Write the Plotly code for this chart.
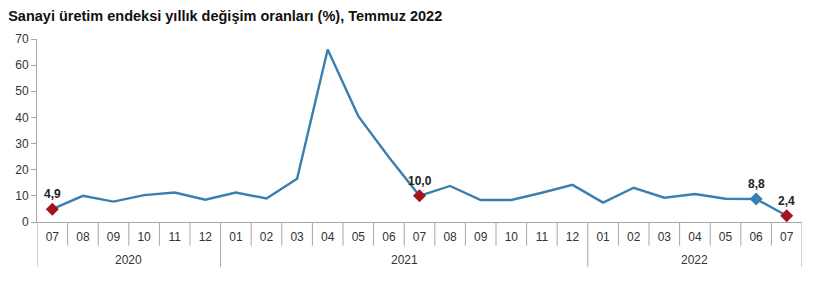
import plotly.graph_objects as go

months = ["07", "08", "09", "10", "11", "12",
          "01", "02", "03", "04", "05", "06", "07", "08", "09", "10", "11", "12",
          "01", "02", "03", "04", "05", "06", "07"]
years = ["2020", "2021", "2022"]
year_counts = [6, 12, 7]
values = [4.9, 10.0, 7.8, 10.3, 11.3, 8.5,
          11.3, 9.0, 16.5, 66.0, 40.5, 24.8, 10.0, 13.8, 8.4, 8.4, 11.2, 14.2,
          7.4, 13.1, 9.3, 10.7, 8.9, 8.8, 2.4]
red_idx = [0, 12, 24]
blue_idx = [23]

LINE = "#3b7fb0"
RED = "#a3151c"
GRID = "#a6a6a6"
FONT = "Liberation Sans, Arial, sans-serif"

x = list(range(len(months)))
fig = go.Figure()
fig.add_trace(go.Scatter(x=x, y=values, mode="lines",
                         line=dict(color=LINE, width=2.4), hoverinfo="skip"))
fig.add_trace(go.Scatter(x=[x[i] for i in red_idx], y=[values[i] for i in red_idx],
                         mode="markers", marker=dict(symbol="diamond", size=10, color=RED)))
fig.add_trace(go.Scatter(x=[x[i] for i in blue_idx], y=[values[i] for i in blue_idx],
                         mode="markers", marker=dict(symbol="diamond", size=10, color=LINE)))

annotations = []
for i in red_idx + blue_idx:
    annotations.append(dict(x=x[i], y=values[i], xref="x", yref="y",
                            text="<b>" + f"{values[i]:.1f}".replace(".", ",") + "</b>",
                            showarrow=False, yshift=15,
                            font=dict(family=FONT, size=12, color="#222")))

shapes = []
start = 0
bounds_long = [-0.5]
for c in year_counts:
    start += c
    bounds_long.append(start - 0.5)
for b in range(len(months) + 1):
    xb = b - 0.5
    y1 = -0.245 if xb in bounds_long else -0.13
    shapes.append(dict(type="line", xref="x", yref="paper", x0=xb, x1=xb, y0=0, y1=y1,
                       line=dict(color=GRID, width=1)))

s = 0
for yr, c in zip(years, year_counts):
    annotations.append(dict(x=s + (c - 1) / 2, y=-0.205, xref="x", yref="paper",
                            text=yr, showarrow=False, yanchor="middle",
                            font=dict(family=FONT, size=12, color="#333")))
    s += c

fig.update_layout(
    width=817, height=295,
    margin=dict(l=37, r=15, t=39, b=73),
    paper_bgcolor="white", plot_bgcolor="white",
    showlegend=False,
    title=dict(text="<b>Sanayi üretim endeksi yıllık değişim oranları (%), Temmuz 2022</b>",
               x=0.01, xanchor="left", y=0.945, yanchor="middle",
               font=dict(family=FONT, size=14.5, color="#111")),
    xaxis=dict(range=[-0.5, len(months) - 0.5], tickvals=x, ticktext=months,
               showgrid=False, zeroline=False, showline=True, linecolor=GRID, linewidth=1,
               ticks="outside", ticklen=4, tickcolor="rgba(0,0,0,0)",
               tickfont=dict(family=FONT, size=12, color="#333"), fixedrange=True),
    yaxis=dict(range=[0, 70], tickvals=list(range(0, 71, 10)),
               showgrid=False, zeroline=False, showline=True, linecolor=GRID, linewidth=1,
               ticks="outside", ticklen=5, tickcolor=GRID,
               tickfont=dict(family=FONT, size=12, color="#333"), fixedrange=True),
    annotations=annotations, shapes=shapes,
)
fig.write_html("out.html")
